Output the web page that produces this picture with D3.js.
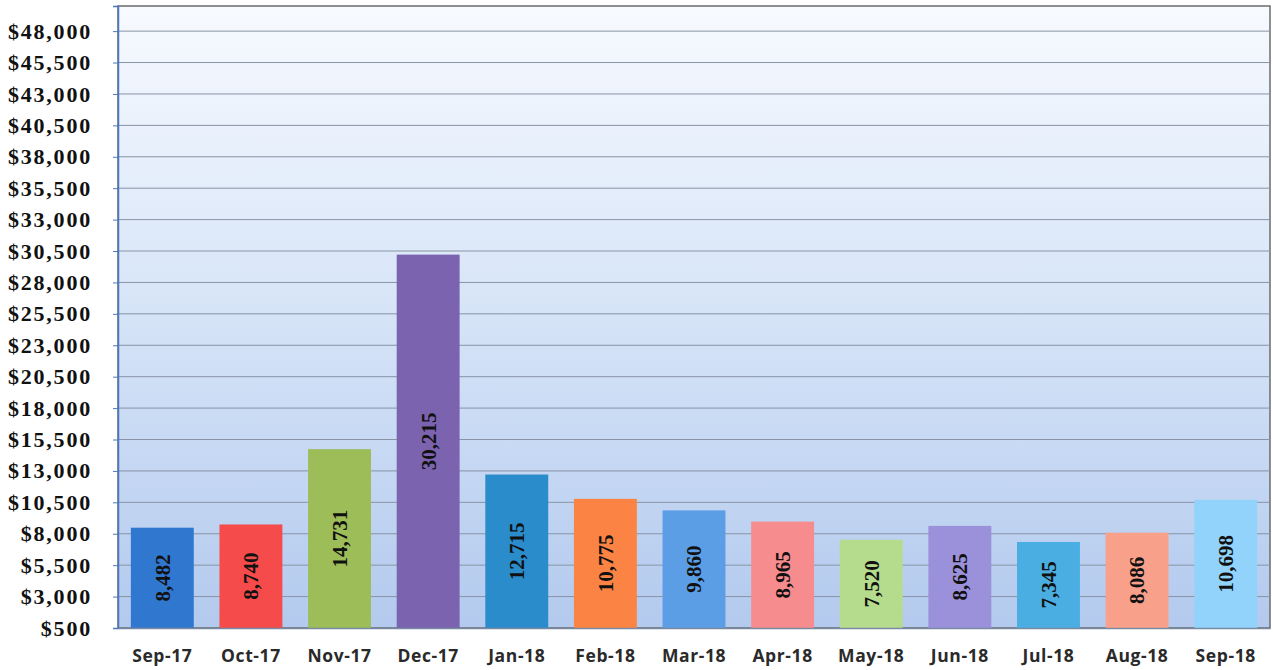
<!DOCTYPE html>
<html>
<head>
<meta charset="utf-8">
<script src="https://cdn.jsdelivr.net/npm/d3@7"></script>
<style>
  body { margin: 0; background: #fff; }
  svg { display: block; }
</style>
</head>
<body>
<svg width="1273" height="670"></svg>
<script>
// chart data
const months = ['Sep-17', 'Oct-17', 'Nov-17', 'Dec-17', 'Jan-18', 'Feb-18', 'Mar-18',
  'Apr-18', 'May-18', 'Jun-18', 'Jul-18', 'Aug-18', 'Sep-18'];
const amounts = [8482, 8740, 14731, 30215, 12715, 10775, 9860, 8965, 7520, 8625, 7345, 8086, 10698];
const barColors = ['#2f77cf', '#f54b4b', '#9dbd58', '#7b63b0', '#2b8ccb', '#fb8343', '#5b9ee6',
  '#f78c8e', '#b5dc8c', '#9b90da', '#4aaee3', '#f9a08a', '#92d3fb'];
const yTicks = [500, 3000, 5500, 8000, 10500, 13000, 15500, 18000, 20500, 23000, 25500,
  28000, 30500, 33000, 35500, 38000, 40500, 43000, 45500, 48000];

const svg = d3.select('svg');
const margin = { top: 6, right: 3, bottom: 42, left: 118 };
const width = 1273, height = 670;
const innerW = width - margin.left - margin.right;
const innerH = height - margin.top - margin.bottom;

const x = d3.scaleBand().domain(months).range([0, innerW]).paddingInner(0.29).paddingOuter(0.145);
const y = d3.scaleLinear().domain([500, 50000]).range([innerH, 0]);

// background gradient
const defs = svg.append('defs');
const grad = defs.append('linearGradient')
  .attr('id', 'bg').attr('x1', 0).attr('y1', 0).attr('x2', 0).attr('y2', 1);
grad.append('stop').attr('offset', '0%').attr('stop-color', '#f7faff');
grad.append('stop').attr('offset', '45%').attr('stop-color', '#d9e6f8');
grad.append('stop').attr('offset', '100%').attr('stop-color', '#b3caee');

const g = svg.append('g').attr('transform', `translate(${margin.left},${margin.top})`);

g.append('rect')
  .attr('width', innerW).attr('height', innerH)
  .attr('fill', 'url(#bg)')
  .attr('stroke', '#6b6b6b').attr('stroke-width', 1.5);

// gridlines
g.append('g').selectAll('line').data(yTicks.slice(1))
  .enter().append('line')
    .attr('x1', 0).attr('x2', innerW)
    .attr('y1', d => y(d)).attr('y2', d => y(d))
    .attr('stroke', '#8893a5').attr('stroke-width', 1);

// y axis
const yAxis = d3.axisLeft(y)
  .tickValues(yTicks)
  .tickFormat(d => '$' + d3.format(',')(d))
  .tickSize(5).tickPadding(21);

const yG = g.append('g').call(yAxis);
yG.select('.domain').attr('stroke', '#4a78c0').attr('stroke-width', 1.5);
yG.selectAll('.tick line').attr('stroke', '#4a78c0');
yG.selectAll('.tick text')
  .attr('fill', '#111')
  .style('font-family', '"Liberation Serif", "Times New Roman", serif')
  .style('font-weight', 'bold')
  .style('font-size', '22px')
  .style('letter-spacing', '1.8px');

// bars
g.selectAll('.bar').data(amounts)
  .enter().append('rect')
    .attr('class', 'bar')
    .attr('x', (d, i) => x(months[i]))
    .attr('y', d => y(d))
    .attr('width', x.bandwidth())
    .attr('height', d => innerH - y(d))
    .attr('fill', (d, i) => barColors[i]);

// value labels, rotated
g.selectAll('.val').data(amounts)
  .enter().append('text')
    .attr('class', 'val')
    .attr('transform', (d, i) => `translate(${x(months[i]) + x.bandwidth() / 2},${(y(d) + innerH) / 2}) rotate(-90)`)
    .attr('text-anchor', 'middle')
    .attr('dy', '0.35em')
    .attr('fill', '#111')
    .style('font-family', '"Liberation Serif", "Times New Roman", serif')
    .style('font-weight', 'bold')
    .style('font-size', '21px')
    .text(d => d3.format(',')(d));

// x axis
const xAxis = d3.axisBottom(x).tickSize(0).tickPadding(22);
const xG = g.append('g').attr('transform', `translate(0,${innerH})`).call(xAxis);
xG.select('.domain').attr('stroke', '#7a8aa3').attr('stroke-width', 1.5);
xG.selectAll('.tick text')
  .attr('fill', '#2a2a2a')
  .style('font-family', '"Open Sans", "Noto Sans", sans-serif')
  .style('font-weight', 'bold')
  .style('font-size', '17.5px')
  .style('letter-spacing', '0.6px');
</script>
</body>
</html>
